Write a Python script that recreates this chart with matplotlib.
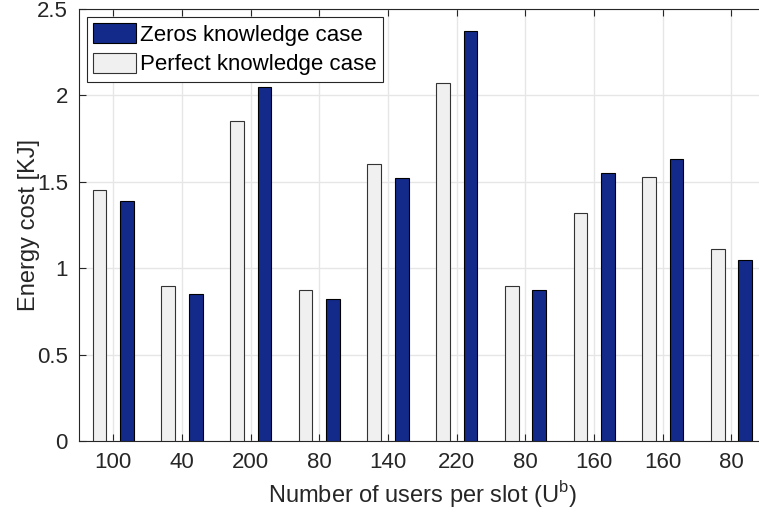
import numpy as np
import matplotlib.pyplot as plt

plt.rcParams['font.family'] = ['Liberation Sans', 'DejaVu Sans']

# users per slot shown under each group
usuarios = ['100', '40', '200', '80', '140', '220', '80', '160', '160', '80']
# energy cost [KJ]
perfeito = [1.45, 0.895, 1.85, 0.875, 1.605, 2.07, 0.90, 1.32, 1.53, 1.11]
zeros = [1.39, 0.85, 2.05, 0.82, 1.52, 2.37, 0.875, 1.55, 1.63, 1.05]

x = np.arange(1, len(usuarios) + 1)

fig = plt.figure(figsize=(7.59, 5.18), dpi=100)
ax = fig.add_axes([0.104, 0.1486, 0.905, 0.834])

ax.bar(x + 0.2, zeros, 0.2, color='#142a8a', edgecolor='black', linewidth=0.8,
       label='Zeros knowledge case', zorder=3)
ax.bar(x - 0.2, perfeito, 0.2, color='#f0f0f0', edgecolor='#333333', linewidth=0.8,
       label='Perfect knowledge case', zorder=3)

ax.set_xlim(0.5, 10.5)
ax.set_ylim(0, 2.5)
ax.set_xticks(x)
ax.set_xticklabels(usuarios)
ax.set_yticks([0, 0.5, 1, 1.5, 2, 2.5])
ax.set_yticklabels(['0', '0.5', '1', '1.5', '2', '2.5'])
ax.tick_params(direction='in', top=True, right=True, labelsize=16, colors='#262626',
               length=5, width=0.8, pad=8)
ax.grid(True, color='#e6e6e6', linewidth=1, zorder=0)
ax.set_axisbelow(True)
for s in ax.spines.values():
    s.set_color('#262626')
    s.set_linewidth(0.8)

ax.set_xlabel('Number of users per slot (U$^{\\mathregular{b}}$)', fontsize=17, color='#262626',
              labelpad=4)
ax.set_ylabel('Energy cost [KJ]', fontsize=17, color='#262626', labelpad=-2)

leg = ax.legend(loc='upper left', fontsize=16, fancybox=False, framealpha=1,
                edgecolor='#262626', handlelength=1.9, handleheight=1.0,
                borderaxespad=0.35, borderpad=0.3, labelspacing=0.3, handletextpad=0.2)
leg.get_frame().set_linewidth(0.8)

fig.savefig('out.png', dpi=100)
